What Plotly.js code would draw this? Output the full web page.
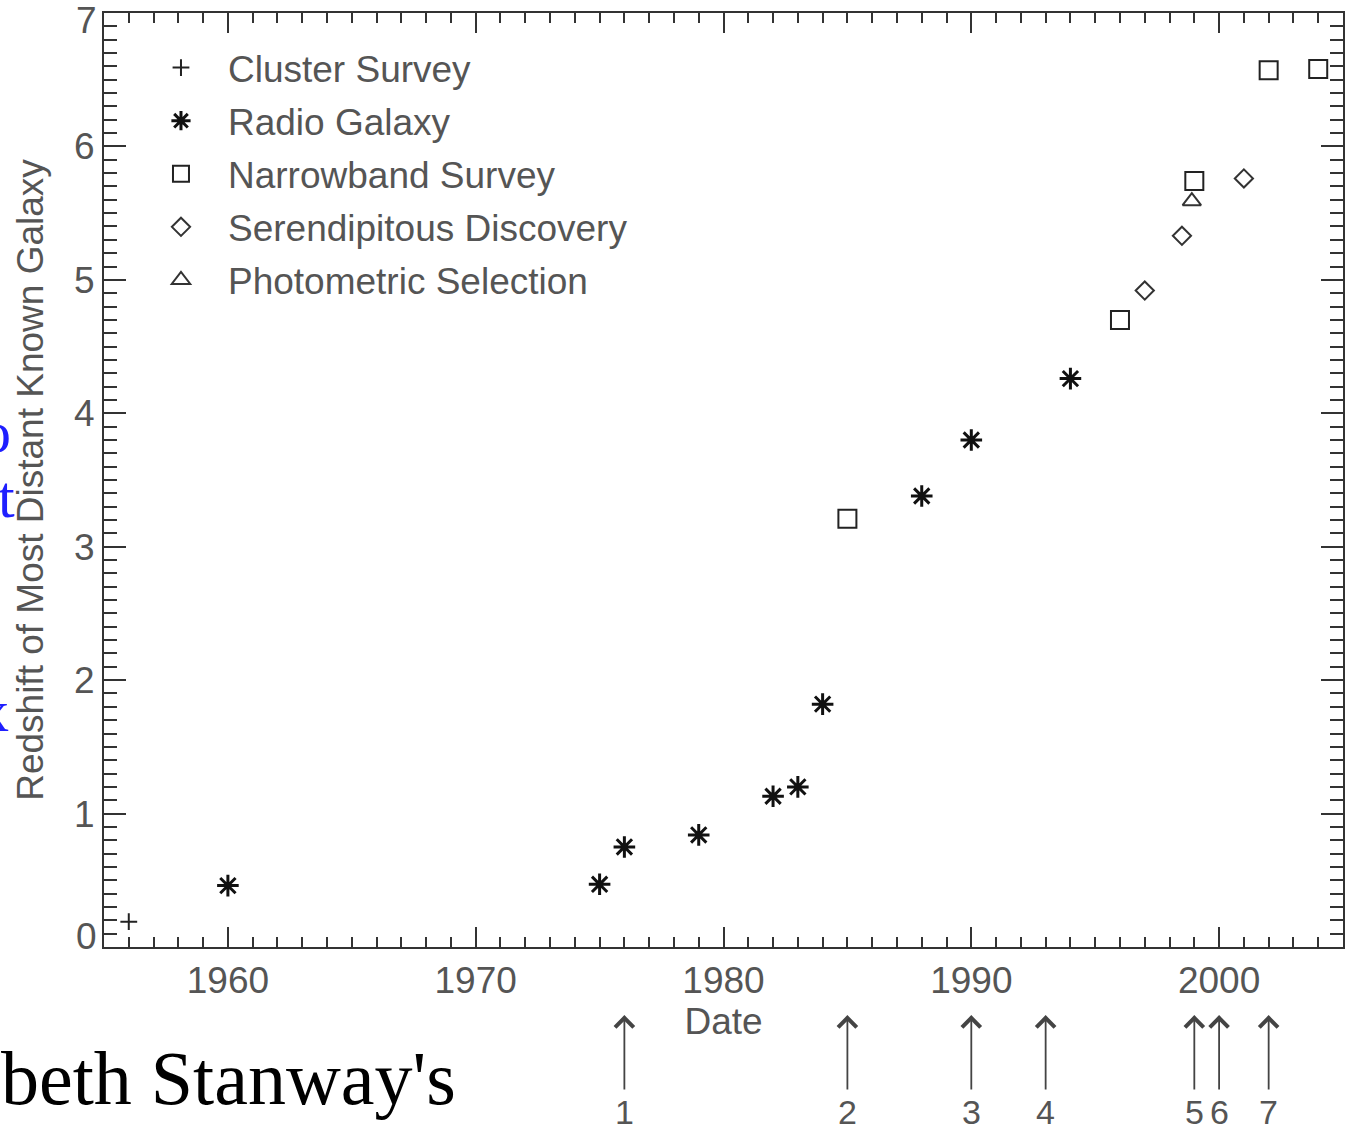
<!DOCTYPE html>
<html>
<head>
<meta charset="utf-8">
<script src="https://cdn.plot.ly/plotly-3.0.1.min.js"></script>
<style>
  html, body { margin: 0; padding: 0; background: #fff; }
  #chart { width: 1354px; height: 1131px; }
</style>
</head>
<body>
<div id="chart"></div>
<script>
// Redshift of the most distant known galaxy, by year of discovery and method
const clusterYears = [1956];
const clusterZ = [0.19];

const radioYears = [1960, 1975, 1976, 1979, 1982, 1983, 1984, 1988, 1990, 1994];
const radioZ = [0.46, 0.47, 0.75, 0.84, 1.13, 1.20, 1.82, 3.38, 3.80, 4.26];

const narrowYears = [1985, 1996, 1999, 2002, 2004];
const narrowZ = [3.21, 4.70, 5.74, 6.57, 6.58];

const serendipYears = [1997, 1998.5, 2001];
const serendipZ = [4.92, 5.33, 5.76];

const photoYears = [1998.9];
const photoZ = [5.59];

// numbered milestones marked under the date axis
const milestoneYears = [1976, 1985, 1990, 1993, 1999, 2000, 2002];
const milestoneLabels = ['1', '2', '3', '4', '5', '6', '7'];

const xTickVals = [1960, 1970, 1980, 1990, 2000];
const yTickVals = [0, 1, 2, 3, 4, 5, 6, 7];
// end labels 0 and 7 sit just inside the frame, drawn separately below
const yTickText = ['', '1', '2', '3', '4', '5', '6', ''];

const SANS = 'Liberation Sans, Arial, Helvetica, sans-serif';
const SERIF = 'Liberation Serif, Times New Roman, serif';
const TEXT_GREY = '#555';
const AXIS_GREY = '#333';
const FS = 37;

function series(name, xs, ys, symbol, size, color, lw) {
  return {
    type: 'scatter', mode: 'markers', name: name, x: xs, y: ys,
    legendgroup: name,
    marker: { symbol: symbol, size: size, color: color,
              line: { color: color, width: lw } },
    cliponaxis: false, hoverinfo: 'x+y'
  };
}

const traces = [
  series('Cluster Survey', clusterYears, clusterZ, 'cross-thin-open', 12, '#222', 2),
  series('Radio Galaxy', radioYears, radioZ, 'asterisk-open', 18, '#111', 3),
  series('Narrowband Survey', narrowYears, narrowZ, 'square-open', 18, '#222', 2),
  series('Serendipitous Discovery', serendipYears, serendipZ, 'diamond-open', 14, '#333', 2),
  series('Photometric Selection', photoYears, photoZ, 'triangle-up-open', 16, '#333', 2)
];

const annotations = milestoneYears.map((yr, i) => ({
  xref: 'x', yref: 'paper', x: yr, y: -0.0729,
  text: milestoneLabels[i], showarrow: true,
  axref: 'pixel', ayref: 'pixel', ax: 0, ay: 97,
  arrowhead: 4, arrowsize: 2, arrowwidth: 1.8, arrowcolor: '#444',
  standoff: 0, startstandoff: 2,
  font: { family: SANS, size: 34, color: TEXT_GREY }
}));

// y labels at the two ends of the axis
[[0, 11], [7, -7]].forEach(([v, shift]) => {
  annotations.push({
    xref: 'paper', yref: 'y', x: 0, y: v, xanchor: 'right', yanchor: 'middle',
    xshift: -5, yshift: shift, showarrow: false, text: String(v),
    font: { family: SANS, size: FS, color: TEXT_GREY }
  });
});

// text of the surrounding page that runs into the figure
annotations.push({
  xref: 'paper', yref: 'paper', x: -0.0845, y: -0.1404,
  xanchor: 'left', yanchor: 'middle', showarrow: false,
  text: "beth Stanway's", font: { family: SERIF, size: 76, color: '#000' }
});
[['o', 432, 13], ['t', 497, 17], ['x', 711, 11]].forEach(([ch, py, px]) => {
  annotations.push({
    xref: 'paper', yref: 'paper', x: (px - 104) / 1239, y: (947 - py) / 934,
    xanchor: 'right', yanchor: 'middle', showarrow: false,
    text: ch, font: { family: SERIF, size: 60, color: '#1f1fff' }
  });
});

const layout = {
  width: 1354, height: 1131,
  margin: { l: 104, r: 11, t: 13, b: 184 },
  paper_bgcolor: '#fff', plot_bgcolor: '#fff',
  font: { family: SANS, size: FS, color: TEXT_GREY },
  showlegend: true,
  legend: {
    x: 0.0242, y: 0.9743, xanchor: 'left', yanchor: 'top',
    bgcolor: 'rgba(0,0,0,0)', borderwidth: 0,
    font: { family: SANS, size: FS, color: TEXT_GREY },
    itemwidth: 84, itemsizing: 'trace', tracegroupgap: 2
  },
  xaxis: {
    range: [1955, 2005], tickvals: xTickVals,
    ticks: 'inside', ticklen: 20, tickwidth: 2, tickcolor: AXIS_GREY,
    minor: { dtick: 1, tick0: 1955, ticks: 'inside', ticklen: 10, tickwidth: 2, tickcolor: AXIS_GREY, showgrid: false },
    showline: true, linecolor: AXIS_GREY, linewidth: 2, mirror: 'allticks',
    showgrid: false, zeroline: false,
    tickfont: { family: SANS, size: FS, color: TEXT_GREY },
    title: { text: 'Date', font: { family: SANS, size: FS, color: TEXT_GREY }, standoff: 4 }
  },
  yaxis: {
    range: [0, 7], tickvals: yTickVals, ticktext: yTickText,
    ticks: 'inside', ticklen: 22, tickwidth: 2, tickcolor: AXIS_GREY,
    minor: { dtick: 0.1, tick0: 0, ticks: 'inside', ticklen: 13, tickwidth: 2, tickcolor: AXIS_GREY, showgrid: false },
    showline: true, linecolor: AXIS_GREY, linewidth: 2, mirror: 'allticks',
    showgrid: false, zeroline: false,
    tickfont: { family: SANS, size: FS, color: TEXT_GREY },
    title: { text: 'Redshift of Most Distant Known Galaxy', font: { family: SANS, size: FS, color: TEXT_GREY }, standoff: 19 }
  },
  annotations: annotations
};

Plotly.newPlot('chart', traces, layout, { displayModeBar: false, staticPlot: true });
</script>
</body>
</html>
